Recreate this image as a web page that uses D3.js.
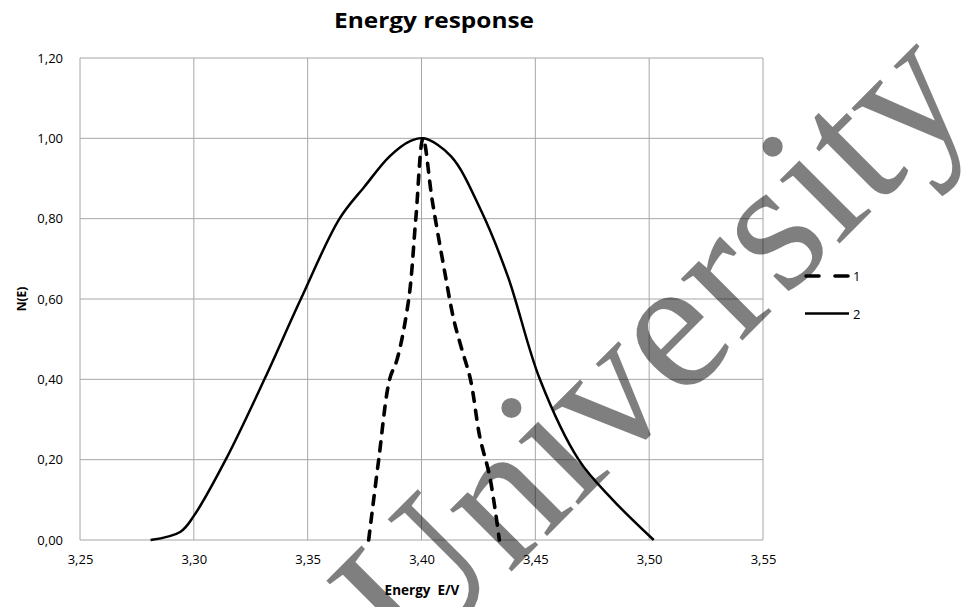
<!DOCTYPE html>
<html lang="en">
<head>
  <meta charset="UTF-8">
  <title>Energy response</title>
  <style>
    body {
      margin: 0;
      background: #fff;
      font-family: "Open Sans", Arial, sans-serif;
    }
    svg text { fill: #000; }
    .grid line { stroke: #a6a6a6; stroke-width: 1; }
    .axis path, .axis line { display: none; }
    .axis text { font-size: 13px; font-family: "Open Sans", sans-serif; }
  </style>
</head>
<body>
  <div id="chart"></div>

  <script src="https://d3js.org/d3.v7.min.js"></script>
  <script>
    // series 1 (dashed)
    const s1Energy = [3.3768, 3.3812, 3.3860, 3.3893, 3.3944, 3.3975, 3.4007, 3.4047, 3.4098, 3.4142, 3.4178, 3.4215, 3.4256, 3.4300, 3.4342];
    const s1Count  = [0.000, 0.200, 0.400, 0.450, 0.600, 0.800, 1.000, 0.846, 0.680, 0.548, 0.473, 0.400, 0.257, 0.157, 0.000];

    // series 2 (solid)
    const s2Energy = [3.281, 3.294, 3.300, 3.314, 3.331, 3.347, 3.364, 3.375, 3.386, 3.395, 3.401, 3.413, 3.426, 3.438, 3.452, 3.469, 3.484, 3.502];
    const s2Count  = [0.000, 0.020, 0.060, 0.200, 0.400, 0.600, 0.800, 0.880, 0.955, 0.993, 1.000, 0.955, 0.822, 0.655, 0.400, 0.200, 0.100, 0.000];

    const xTicks = [3.25, 3.30, 3.35, 3.40, 3.45, 3.50, 3.55];
    const yTicks = [0, 0.2, 0.4, 0.6, 0.8, 1.0, 1.2];
    const seriesNames = ["1", "2"];

    const width = 969, height = 607;
    const margin = { top: 58, right: 206, bottom: 67, left: 80 };
    const innerW = width - margin.left - margin.right;
    const innerH = height - margin.top - margin.bottom;

    const svg = d3.select("#chart").append("svg")
      .attr("width", width)
      .attr("height", height);

    const g = svg.append("g")
      .attr("transform", `translate(${margin.left},${margin.top})`);

    const x = d3.scaleLinear().domain([3.25, 3.55]).range([0, innerW]);
    const y = d3.scaleLinear().domain([0, 1.2]).range([innerH, 0]);

    const comma = d => d3.format(".2f")(d).replace(".", ",");

    // gridlines
    g.append("g").attr("class", "grid")
      .selectAll("line.h").data(yTicks).enter().append("line")
      .attr("x1", 0).attr("x2", innerW)
      .attr("y1", d => y(d)).attr("y2", d => y(d));
    g.append("g").attr("class", "grid")
      .selectAll("line.v").data(xTicks).enter().append("line")
      .attr("y1", 0).attr("y2", innerH)
      .attr("x1", d => x(d)).attr("x2", d => x(d));

    // axes (labels only)
    g.append("g").attr("class", "axis")
      .attr("transform", `translate(0,${innerH})`)
      .call(d3.axisBottom(x).tickValues(xTicks).tickFormat(comma).tickSize(0).tickPadding(15));
    g.append("g").attr("class", "axis")
      .call(d3.axisLeft(y).tickValues(yTicks).tickFormat(comma).tickSize(0).tickPadding(17));

    // curves
    const line = d3.line()
      .x(d => x(d[0]))
      .y(d => y(d[1]))
      .curve(d3.curveCatmullRom.alpha(0.5));

    g.append("path")
      .datum(s2Energy.map((e, i) => [e, s2Count[i]]))
      .attr("fill", "none")
      .attr("stroke", "#000")
      .attr("stroke-width", 2.5)
      .attr("d", line);

    g.append("path")
      .datum(s1Energy.map((e, i) => [e, s1Count[i]]))
      .attr("fill", "none")
      .attr("stroke", "#000")
      .attr("stroke-width", 3.6)
      .attr("stroke-linecap", "round")
      .attr("stroke-dasharray", "9,9")
      .attr("d", line);

    // titles
    svg.append("text")
      .attr("x", 434).attr("y", 28)
      .attr("text-anchor", "middle")
      .attr("textLength", 200)
      .attr("lengthAdjust", "spacingAndGlyphs")
      .style("font-size", "22px").style("font-weight", "bold")
      .text("Energy response");

    svg.append("text")
      .attr("x", 422).attr("y", 595)
      .attr("text-anchor", "middle")
      .style("font-size", "13.5px").style("font-weight", "bold")
      .attr("xml:space", "preserve")
      .text("Energy  E/V");

    svg.append("text")
      .attr("transform", "translate(26,299) rotate(-90)")
      .attr("text-anchor", "middle")
      .style("font-size", "12px").style("font-weight", "bold")
      .text("N(E)");

    // legend
    const legend = svg.append("g").attr("transform", "translate(805,276)");
    seriesNames.forEach((name, i) => {
      const row = legend.append("g").attr("transform", `translate(0,${i * 37.5})`);
      row.append("line")
        .attr("x1", i === 0 ? 1 : 0).attr("x2", i === 0 ? 43 : 44)
        .attr("stroke", "#000")
        .attr("stroke-width", i === 0 ? 3.6 : 2.5)
        .attr("stroke-linecap", i === 0 ? "round" : "butt")
        .attr("stroke-dasharray", i === 0 ? "13,16" : null);
      row.append("text")
        .attr("x", 48).attr("y", 5)
        .style("font-size", "13px")
        .text(name);
    });

    // watermark
    svg.append("text")
      .attr("transform", "translate(695,388) rotate(-45)")
      .attr("text-anchor", "middle")
      .style("font-family", "'Liberation Serif', serif")
      .style("font-size", "190px")
      .style("fill", "#000")
      .style("fill-opacity", 0.5)
      .text("University");
  </script>
</body>
</html>
